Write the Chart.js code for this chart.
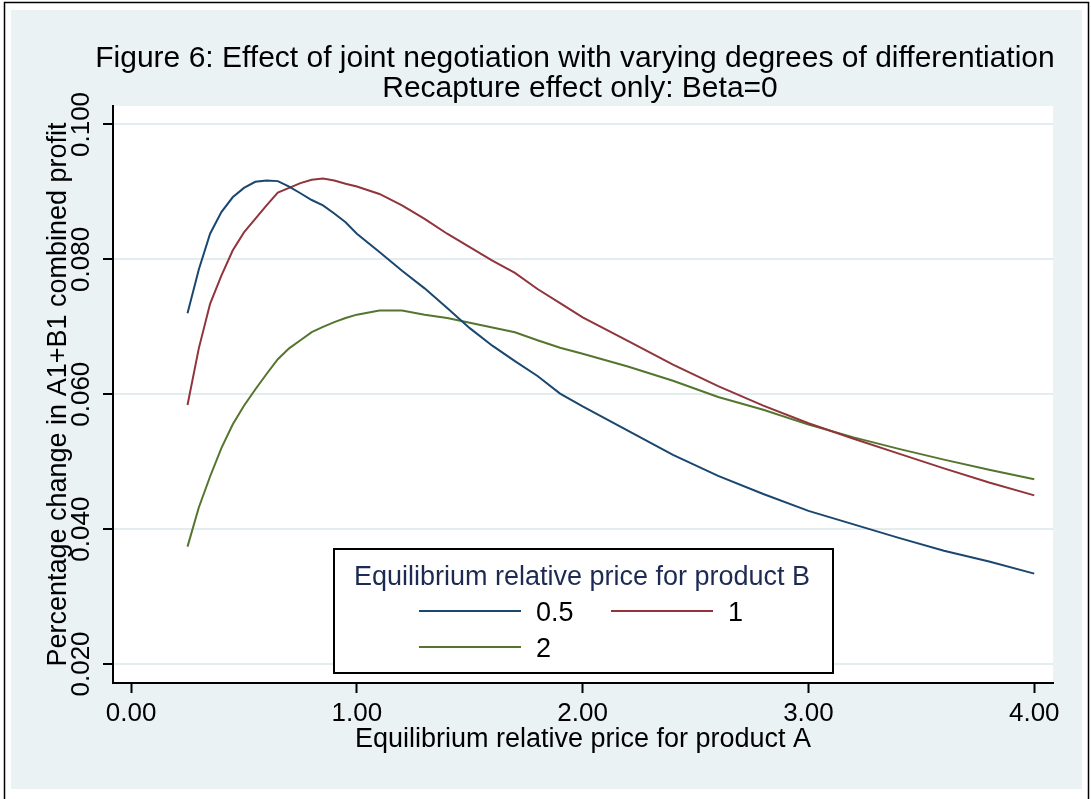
<!DOCTYPE html>
<html>
<head>
<meta charset="utf-8">
<title>Figure 6</title>
<script src="https://cdn.jsdelivr.net/npm/chart.js@4.4.1/dist/chart.umd.min.js"></script>
<style>
  html, body { margin: 0; padding: 0; background: #fff; }
  canvas { display: block; }
</style>
</head>
<body>
<canvas id="fig6" width="1091" height="799"></canvas>
<script>
// equilibrium relative price for product A
const priceA = [0.25, 0.30, 0.35, 0.40, 0.45, 0.50, 0.55, 0.60, 0.65, 0.70, 0.75, 0.80, 0.85, 0.90, 0.95, 1.00,
                1.10, 1.20, 1.30, 1.40, 1.50, 1.60, 1.70, 1.80, 1.90, 2.00, 2.20, 2.40, 2.60, 2.80, 3.00,
                3.20, 3.40, 3.60, 3.80, 4.00];

// % change in A1+B1 combined profit, by relative price of product B
const priceB05 = [0.0720, 0.0785, 0.0838, 0.0870, 0.0892, 0.0906, 0.0915, 0.0917, 0.0916, 0.0908, 0.0898, 0.0888,
                  0.0880, 0.0868, 0.0855, 0.0838, 0.0811, 0.0783, 0.0757, 0.0728, 0.0698, 0.0672, 0.0649, 0.0627,
                  0.0601, 0.0582, 0.0546, 0.0510, 0.0479, 0.0452, 0.0427, 0.0407, 0.0387, 0.0368, 0.0352, 0.0334];
const priceB1 = [0.0584, 0.0668, 0.0734, 0.0776, 0.0813, 0.0840, 0.0860, 0.0880, 0.0899, 0.0906, 0.0913, 0.0918,
                 0.0920, 0.0917, 0.0912, 0.0908, 0.0897, 0.0880, 0.0860, 0.0838, 0.0818, 0.0798, 0.0780, 0.0756,
                 0.0735, 0.0714, 0.0679, 0.0644, 0.0612, 0.0583, 0.0557, 0.0534, 0.0512, 0.0490, 0.0469, 0.0450];
const priceB2 = [0.0374, 0.0432, 0.0478, 0.0520, 0.0555, 0.0583, 0.0607, 0.0630, 0.0652, 0.0668, 0.0680, 0.0692,
                 0.0700, 0.0707, 0.0713, 0.0718, 0.0724, 0.0724, 0.0718, 0.0713, 0.0706, 0.0699, 0.0692, 0.0680,
                 0.0669, 0.0660, 0.0641, 0.0620, 0.0596, 0.0577, 0.0555, 0.0536, 0.0519, 0.0503, 0.0488, 0.0474];

const seriesLabels = ['0.5', '1', '2'];
const seriesColors = ['#1a476f', '#90353b', '#55752f'];

const xTicks = [0, 1, 2, 3, 4];
const xTickLabels = ['0.00', '1.00', '2.00', '3.00', '4.00'];
const yTicks = [0.02, 0.04, 0.06, 0.08, 0.10];
const yTickLabels = ['0.020', '0.040', '0.060', '0.080', '0.100'];

const FONT = "'Liberation Sans', Arial, Helvetica, sans-serif";

function pairs(ys) {
    return priceA.map((x, i) => ({ x: x, y: ys[i] }));
}

// stata style background, frame, titles and boxed legend
const stataFrame = {
    id: 'stataFrame',
    beforeDraw(chart) {
        const ctx = chart.ctx;
        const a = chart.chartArea;
        ctx.save();
        ctx.fillStyle = '#ffffff';
        ctx.fillRect(0, 0, chart.width, chart.height);
        ctx.fillStyle = '#eaf2f3';
        ctx.fillRect(11, 10, 1071, 779);
        ctx.strokeStyle = '#000';
        ctx.lineWidth = 1.5;
        ctx.strokeRect(4.5, 2.5, 1084, 800);
        ctx.fillStyle = '#ffffff';
        ctx.fillRect(a.left, a.top, a.right - a.left, a.bottom - a.top);

        ctx.fillStyle = '#000';
        ctx.textAlign = 'center';
        ctx.textBaseline = 'alphabetic';
        ctx.font = '30px ' + FONT;
        ctx.fillText('Figure 6: Effect of joint negotiation with varying degrees of differentiation', 575, 66.5);
        ctx.fillText('Recapture effect only: Beta=0', 580, 96.5);
        ctx.restore();
    },
    afterDatasetsDraw(chart) {
        const ctx = chart.ctx;
        ctx.save();
        ctx.fillStyle = '#ffffff';
        ctx.fillRect(334, 549, 499, 124);
        ctx.strokeStyle = '#000';
        ctx.lineWidth = 2;
        ctx.strokeRect(334, 549, 499, 124);

        ctx.font = '27px ' + FONT;
        ctx.textBaseline = 'alphabetic';
        ctx.textAlign = 'center';
        ctx.fillStyle = '#1d2b53';
        ctx.fillText('Equilibrium relative price for product B', 582, 585);

        const slots = [[419, 611, 536], [611, 611, 728], [419, 647, 536]];
        ctx.textAlign = 'left';
        chart.data.datasets.forEach((ds, i) => {
            const s = slots[i];
            ctx.strokeStyle = ds.borderColor;
            ctx.lineWidth = 2;
            ctx.beginPath();
            ctx.moveTo(s[0], s[1]);
            ctx.lineTo(s[0] + 102, s[1]);
            ctx.stroke();
            ctx.fillStyle = '#000';
            ctx.fillText(ds.label, s[2], s[1] + 10);
        });
        ctx.restore();
    }
};

new Chart(document.getElementById('fig6').getContext('2d'), {
    type: 'line',
    data: {
        datasets: [
            { label: seriesLabels[0], data: pairs(priceB05), borderColor: seriesColors[0] },
            { label: seriesLabels[1], data: pairs(priceB1), borderColor: seriesColors[1] },
            { label: seriesLabels[2], data: pairs(priceB2), borderColor: seriesColors[2] }
        ]
    },
    options: {
        responsive: false,
        animation: false,
        devicePixelRatio: 1,
        elements: {
            line: { borderWidth: 2, tension: 0, fill: false },
            point: { radius: 0 }
        },
        layout: { padding: { left: 0, right: 38, top: 106, bottom: 0 } },
        plugins: {
            legend: { display: false },
            title: { display: false },
            tooltip: { enabled: false }
        },
        scales: {
            x: {
                type: 'linear',
                min: -0.08,
                max: 4.083,
                afterBuildTicks: s => { s.ticks = xTicks.map(v => ({ value: v })); },
                afterFit: s => { s.height = 116; },
                ticks: {
                    autoSkip: false,
                    maxRotation: 0,
                    padding: 5,
                    color: '#000',
                    font: { family: FONT, size: 26 },
                    callback: (v, i) => xTickLabels[i]
                },
                grid: { drawOnChartArea: false, tickLength: 10, tickColor: '#000', tickWidth: 2 },
                border: { color: '#000', width: 2 },
                title: {
                    display: true,
                    text: 'Equilibrium relative price for product A',
                    color: '#000',
                    font: { family: FONT, size: 27 },
                    padding: { top: 0, bottom: 43 }
                }
            },
            y: {
                type: 'linear',
                min: 0.01718,
                max: 0.10274,
                afterBuildTicks: s => { s.ticks = yTicks.map(v => ({ value: v })); },
                afterFit: s => { s.width = 113; },
                ticks: {
                    autoSkip: false,
                    minRotation: 90,
                    maxRotation: 90,
                    crossAlign: 'center',
                    padding: -11,
                    color: '#000',
                    font: { family: FONT, size: 26 },
                    callback: (v, i) => yTickLabels[i]
                },
                grid: { color: '#e3ecef', lineWidth: 2, tickLength: 10, tickColor: '#000', tickWidth: 2 },
                border: { color: '#000', width: 2 },
                title: {
                    display: true,
                    text: 'Percentage change in A1+B1 combined profit',
                    color: '#000',
                    font: { family: FONT, size: 27 },
                    padding: { top: 42, bottom: 0 }
                }
            }
        }
    },
    plugins: [stataFrame]
});
</script>
</body>
</html>
